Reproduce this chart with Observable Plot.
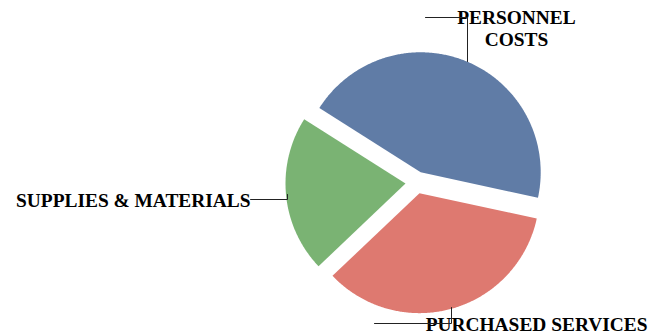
<!DOCTYPE html>
<html><head><meta charset="utf-8">
<script src="https://cdn.jsdelivr.net/npm/d3@7"></script>
<script src="https://cdn.jsdelivr.net/npm/@observablehq/plot@0.6"></script>
<style>html,body{margin:0;padding:0;background:#fff;overflow:hidden}</style>
</head><body><div id="chart"></div>
<script>
// ---- data ----
const categories = ["PERSONNEL\nCOSTS", "PURCHASED SERVICES", "SUPPLIES & MATERIALS"];
const shares = [44.4, 34.5, 21.1];
const colors = ["#607ca6", "#de7970", "#7ab373"];
const firstSliceAngle = -57.6; // degrees clockwise from 12 o'clock
const explode = 0.092;         // slice offset, in pie radii

// ---- label layout (units of pie radius, relative to pie centre) ----
const labelX = [0.833, 1.925, -1.383];
const labelY = [1.458, -1.10, -0.067];
const labelAnchor = ["middle", "end", "end"];
const leaderX = [[0.075, 0.425, 0.425], [-0.35, 0.2917, 0.2917], [-1.383, -1.075, -1.075]];
const leaderY = [[1.375, 1.375, 1.008], [-1.175, -1.175, -1.0417], [-0.1417, -0.1417, -0.1]];

// ---- geometry from the data ----
const arcs = d3.pie().sort(null)
  .startAngle(firstSliceAngle * Math.PI / 180)
  .endAngle(firstSliceAngle * Math.PI / 180 + 2 * Math.PI)(shares);
const slicePts = [];
arcs.forEach((a, i) => {
  const mid = (a.startAngle + a.endAngle) / 2;
  const ox = explode * Math.sin(mid), oy = explode * Math.cos(mid);
  slicePts.push({k: i, x: ox, y: oy});
  const n = Math.max(2, Math.ceil((a.endAngle - a.startAngle) / (Math.PI / 360)));
  for (let j = 0; j <= n; j++) {
    const t = a.startAngle + (a.endAngle - a.startAngle) * j / n;
    slicePts.push({k: i, x: ox + Math.sin(t), y: oy + Math.cos(t)});
  }
});
const labels = categories.map((c, i) => ({text: c, x: labelX[i], y: labelY[i], anchor: labelAnchor[i]}));
const leaderPts = leaderX.flatMap((xs, i) => xs.map((x, j) => ({k: i, x, y: leaderY[i][j]})));

const R = 120;
const chart = Plot.plot({
  width: 650, height: 336, margin: 0,
  x: {domain: [-416 / R, 234 / R], axis: null},
  y: {domain: [-154 / R, 182 / R], axis: null},
  color: {domain: [0, 1, 2], range: colors},
  style: {background: "#fff", overflow: "visible"},
  marks: [
    Plot.line(slicePts, {x: "x", y: "y", z: "k", fill: d => d.k, stroke: "none", curve: "linear-closed"}),
    ...[0, 1, 2].map(i => Plot.text(labels.filter((d, j) => j === i), {
      x: "x", y: "y", text: "text", textAnchor: labelAnchor[i], lineAnchor: "top", lineHeight: 1.17,
      fontFamily: "Liberation Serif", fontWeight: "bold", fontSize: 19.4, fill: "#000"
    })),
    Plot.line(leaderPts, {x: "x", y: "y", z: "k", stroke: "#222", strokeWidth: 1})
  ]
});
document.getElementById("chart").appendChild(chart);
</script>
</body></html>
